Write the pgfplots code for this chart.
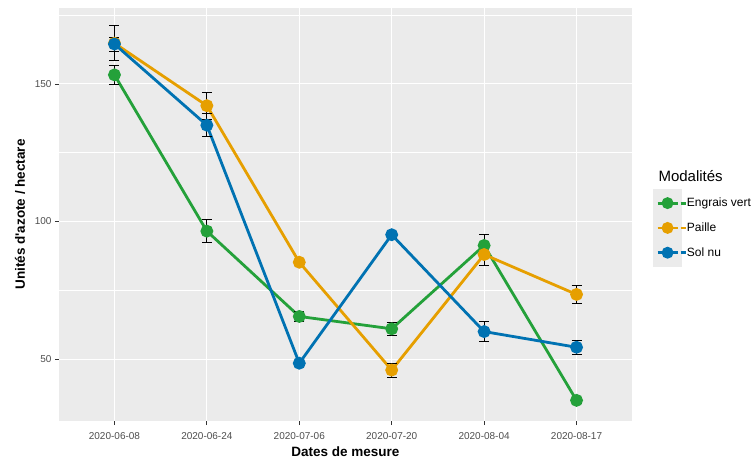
\documentclass[border=0pt]{standalone}
\usepackage{pgfplots}
\pgfplotsset{compat=1.18}
\usepackage{pgfplotstable}
\usepackage{fontspec}
\setmainfont{Liberation Sans}
\definecolor{panel}{RGB}{235,235,235}
\definecolor{cgreen}{RGB}{36,161,58}
\definecolor{corange}{RGB}{230,159,0}
\definecolor{cblue}{RGB}{0,114,178}
\definecolor{ticklab}{RGB}{77,77,77}
\definecolor{tickcol}{RGB}{51,51,51}

\pgfplotstableread{
x y e
0 153.3 3.3
1 96.5 4.2
2 65.5 1.8
3 61.0 2.4
4 91.3 4.0
5 35.0 1.0
}\engrais
\pgfplotstableread{
x y e
0 164.8 6.4
1 142.1 5.0
2 85.2 1.2
3 46.0 2.5
4 88.0 4.0
5 73.5 3.4
}\paille
\pgfplotstableread{
x y e
0 164.5 2.5
1 135.0 4.2
2 48.5 0.8
3 95.2 1.3
4 60.0 3.6
5 54.3 2.6
}\solnu

\begin{document}
\begin{tikzpicture}
\useasboundingbox (-59pt,-40pt) rectangle (695pt,421pt);
\begin{axis}[
  scale only axis,
  width=573pt, height=413pt,
  at={(0pt,0pt)}, anchor=south west,
  xmin=-0.6, xmax=5.6,
  ymin=27.5, ymax=177.6,
  xtick={0,1,2,3,4,5},
  xticklabels={2020-06-08,2020-06-24,2020-07-06,2020-07-20,2020-08-04,2020-08-17},
  ytick={50,100,150},
  minor ytick={75,125,175},
  minor tick length=0pt,
  grid=both,
  major grid style={white, line width=1.1pt},
  minor grid style={white, line width=0.55pt},
  axis background/.style={fill=panel},
  axis line style={draw=none},
  tick align=outside,
  tick pos=left,
  major tick length=4pt,
  tick style={tickcol, line width=0.8pt},
  ticklabel style={font=\fontsize{10}{12}\selectfont, text=ticklab},
  xticklabel style={yshift=-4pt},
  /pgf/number format/assume math mode=true,
  xlabel={\textbf{Dates de mesure}},
  ylabel={\textbf{Unités d\textquotesingle azote / hectare}},
  label style={font=\fontsize{13.5}{16}\selectfont},
  xlabel style={at={(axis description cs:0.5,-0.075)}, anchor=center},
  ylabel style={at={(axis description cs:-0.068,0.5)}, anchor=center},
  error bars/error bar style={draw=black, line width=0.8pt, solid},
  error bars/error mark options={rotate=90, draw=black, mark size=5pt, line width=0.8pt, solid},
  legend style={at={(axis description cs:1.0366,0.5617)}, anchor=north west,
    draw=none, fill=none, inner sep=0pt, row sep=-3pt, column sep=0pt,
    font=\fontsize{12}{14}\selectfont,
    nodes={inner sep=0pt}},
  legend cell align=left,
  legend image code/.code={
    \fill[panel] (0pt,-12.5pt) rectangle (26pt,12.5pt);
    \draw[#1, line width=2.8pt, mark=none] (3pt,0pt) -- (23pt,0pt);
    \fill[#1] (13pt,0pt) circle (4.5pt);
    \path (26pt,0pt) -- (31pt,0pt);
  },
]
\addplot[cgreen, line width=2.8pt, mark=*, mark size=5pt, mark options={draw=cgreen, fill=cgreen, solid}]
  table[x=x, y=y] {\engrais};
\addlegendentry{Engrais vert}
\addplot[corange, line width=2.8pt, mark=*, mark size=5pt, mark options={draw=corange, fill=corange, solid}]
  table[x=x, y=y] {\paille};
\addlegendentry{Paille}
\addplot[cblue, line width=2.8pt, mark=*, mark size=5pt, mark options={draw=cblue, fill=cblue, solid}]
  table[x=x, y=y] {\solnu};
\addlegendentry{Sol nu}
\addplot[forget plot, draw=none, mark=none, error bars/.cd, y dir=both, y explicit]
  table[x=x, y=y, y error=e] {\engrais};
\addplot[forget plot, draw=none, mark=none, error bars/.cd, y dir=both, y explicit]
  table[x=x, y=y, y error=e] {\paille};
\addplot[forget plot, draw=none, mark=none, error bars/.cd, y dir=both, y explicit]
  table[x=x, y=y, y error=e] {\solnu};
\end{axis}
\node[anchor=base west, font=\fontsize{15}{18}\selectfont] at (596pt,239pt) {Modalités};
\end{tikzpicture}
\end{document}
